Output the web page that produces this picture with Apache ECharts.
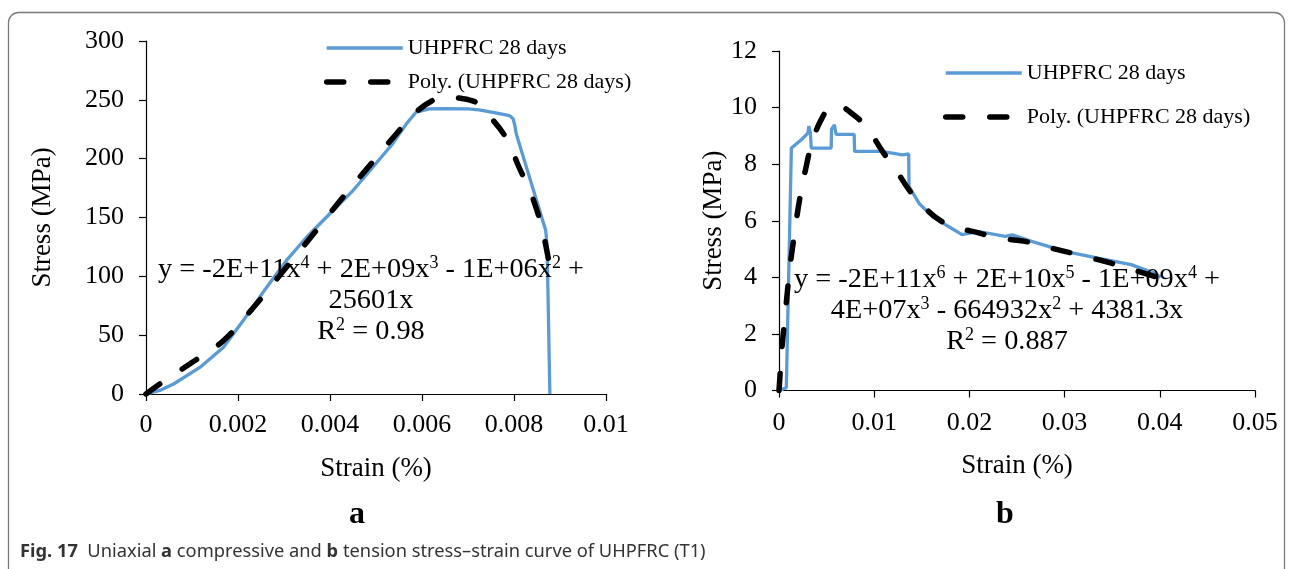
<!DOCTYPE html>
<html>
<head>
<meta charset="utf-8">
<script src="https://cdn.jsdelivr.net/npm/echarts@6/dist/echarts.min.js"></script>
<style>
  html, body { margin: 0; padding: 0; background: #fff; }
  #chart { width: 1293px; height: 569px; }
</style>
</head>
<body>
<div id="chart"></div>
<script>
// (a) compressive test, measured curve
const compStrain = [0, 0.0003, 0.0006, 0.00117, 0.00168, 0.00211, 0.00262, 0.00305, 0.00349, 0.00399,
  0.0045, 0.00493, 0.00536, 0.00566, 0.00587, 0.00616, 0.0065, 0.0070, 0.00724, 0.0076, 0.0079,
  0.00798, 0.00802, 0.00805, 0.00869, 0.00872, 0.00878];
const compStress = [0, 3, 8.5, 22.6, 39.6, 62.3, 90.6, 113.3, 133.2, 153,
  172.9, 192.7, 212.6, 229.6, 239.5, 242.3, 242.5, 242.3, 241.5, 239, 236.6,
  234, 228, 221, 138.9, 125, 0];

// (a) 4th-order polynomial trend line
const compFitStrain = [0, 0.0003, 0.00095, 0.00168, 0.0024, 0.00305, 0.0037, 0.00428, 0.00486, 0.00544,
  0.00587, 0.0063, 0.00652, 0.0068, 0.00717, 0.00739, 0.00782, 0.00811, 0.0084, 0.00862, 0.00876];
const compFitStress = [0, 8.5, 25.5, 45.3, 76.5, 107.7, 138.9, 167.2, 194.1, 221,
  239.5, 250.8, 252.2, 251.5, 248, 239.5, 218.2, 192.7, 167.2, 138.9, 112];

// (b) tension test, measured curve
const tensStrain = [0, 0.0004, 0.00077, 0.0013, 0.00234, 0.00303, 0.00314, 0.0033, 0.00339, 0.00548,
  0.00552, 0.00582, 0.006, 0.0079, 0.00794, 0.0107, 0.0119, 0.01296, 0.01362, 0.01366,
  0.0147, 0.0161, 0.01749, 0.01923, 0.02097, 0.02376, 0.0245, 0.02654, 0.03003, 0.03351,
  0.03699, 0.03943, 0.0401];
const tensStress = [0, 0.05, 0.1, 8.57, 8.86, 9.1, 9.35, 9.1, 8.57, 8.57,
  9.24, 9.39, 9.05, 9.05, 8.45, 8.45, 8.39, 8.33, 8.36, 7.21,
  6.62, 6.15, 5.86, 5.51, 5.62, 5.45, 5.5, 5.27, 4.92, 4.68,
  4.45, 4.15, 4.0];

// (b) 6th-order polynomial trend line
const tensFitStrain = [0, 0.00012, 0.00025, 0.0006, 0.00112, 0.00164, 0.00216, 0.00286, 0.00355, 0.0046,
  0.00548, 0.0063, 0.00739, 0.00913, 0.01087, 0.01227, 0.01366, 0.0147, 0.01679, 0.01853,
  0.02097, 0.02306, 0.02585, 0.02794, 0.03142, 0.0349, 0.03943, 0.0401];
const tensFitStress = [0, 0.6, 1.3, 2.5, 4.27, 5.57, 6.74, 7.92, 8.86, 9.68,
  10.04, 10.05, 9.86, 9.33, 8.45, 7.8, 7.09, 6.68, 6.04, 5.78,
  5.57, 5.39, 5.27, 5.09, 4.8, 4.5, 4.03, 3.95];

// axis ranges and tick steps
const compX = { min: 0, max: 0.01, interval: 0.002 };
const compY = { min: 0, max: 300, interval: 50 };
const tensX = { min: 0, max: 0.05, interval: 0.01 };
const tensY = { min: 0, max: 12, interval: 2 };

const seriesName = 'UHPFRC 28 days';
const fitName = 'Poly. (UHPFRC 28 days)';

const zip = (xs, ys) => xs.map((x, i) => [x, ys[i]]);

const SERIF = "'Liberation Serif', 'Times New Roman', serif";
const BLUE = '#5B9BD5';
const DASH = [17, 27];

function xAxis(gridIndex, range, labelMargin, nameGap) {
  return {
    type: 'value', gridIndex, ...range,
    name: 'Strain (%)', nameLocation: 'middle', nameGap,
    nameTextStyle: { fontFamily: SERIF, fontSize: 27, color: '#000' },
    axisLine: { show: true, lineStyle: { color: '#000', width: 1.2 } },
    axisTick: { show: true, length: 7, lineStyle: { color: '#000', width: 1.2 } },
    axisLabel: { fontFamily: SERIF, fontSize: 26, color: '#000', margin: labelMargin,
      formatter: v => String(Number(v.toFixed(4))) },
    splitLine: { show: false }
  };
}
function yAxis(gridIndex, range, nameGap) {
  return {
    type: 'value', gridIndex, ...range,
    name: 'Stress (MPa)', nameLocation: 'middle', nameGap,
    nameTextStyle: { fontFamily: SERIF, fontSize: 27, color: '#000' },
    axisLine: { show: true, lineStyle: { color: '#000', width: 1.2 } },
    axisTick: { show: true, length: 7, lineStyle: { color: '#000', width: 1.2 } },
    axisLabel: { fontFamily: SERIF, fontSize: 26, color: '#000', margin: 22 },
    splitLine: { show: false }
  };
}
function legend(left, top, gap) {
  return {
    left, top, orient: 'vertical', itemWidth: 76, itemHeight: 22, itemGap: gap,
    itemStyle: { opacity: 0 },
    data: [
      { name: seriesName, itemStyle: { opacity: 0 }, lineStyle: { color: BLUE, width: 3.6 } },
      { name: fitName, itemStyle: { opacity: 0 }, lineStyle: { color: '#000', width: 5.5, type: DASH, cap: 'round' } }
    ],
    textStyle: { fontFamily: SERIF, fontSize: 22, color: '#000' },
    selectedMode: false
  };
}
const measured = (xi, data) => ({
  name: seriesName, type: 'line', xAxisIndex: xi, yAxisIndex: xi, data,
  symbol: 'none', showSymbol: false, smooth: false, lineStyle: { color: BLUE, width: 3.3 }, itemStyle: { color: BLUE },
  z: 2
});
const trend = (xi, data) => ({
  name: fitName, type: 'line', xAxisIndex: xi, yAxisIndex: xi, data,
  symbol: 'none', showSymbol: false, smooth: 0.4,
  lineStyle: { color: '#000', width: 5.5, type: DASH, cap: 'round' }, itemStyle: { color: '#000' },
  z: 3
});

const sup = { fontFamily: SERIF, fontSize: 18, verticalAlign: 'top', color: '#000' };
const eqText = (lines) => lines.join('\n');

const chart = echarts.init(document.getElementById('chart'), null, { renderer: 'canvas' });
chart.setOption({
  animation: false,
  backgroundColor: '#fff',
  grid: [
    { left: 146, top: 41, width: 460, height: 353 },
    { left: 779, top: 51, width: 476, height: 339.5 }
  ],
  xAxis: [xAxis(0, compX, 18, 61), xAxis(1, tensX, 20, 62)],
  yAxis: [yAxis(0, compY, 90), yAxis(1, tensY, 44)],
  legend: [legend(319, 32, 12), legend(938, 57, 22)],
  series: [
    measured(0, zip(compStrain, compStress)),
    trend(0, zip(compFitStrain, compFitStress)),
    measured(1, zip(tensStrain, tensStress)),
    trend(1, zip(tensFitStrain, tensFitStress))
  ],
  graphic: [
    { type: 'rect', shape: { x: 8.5, y: 12.5, width: 1276, height: 620, r: 10 },
      style: { fill: 'none', stroke: '#7a7a7a', lineWidth: 1.3 }, silent: true },
    { type: 'text', x: 371, y: 254, z: 10,
      style: { text: eqText(['y = -2E+11x{s|4} + 2E+09x{s|3} - 1E+06x{s|2} +', '25601x', 'R{s|2} = 0.98']),
        fontFamily: SERIF, fontSize: 28.3, lineHeight: 31, fill: '#000', align: 'center',
        rich: { s: sup } } },
    { type: 'text', x: 1007, y: 264, z: 10,
      style: { text: eqText(['y = -2E+11x{s|6} + 2E+10x{s|5} - 1E+09x{s|4} +', '4E+07x{s|3} - 664932x{s|2} + 4381.3x', 'R{s|2} = 0.887']),
        fontFamily: SERIF, fontSize: 28.3, lineHeight: 31, fill: '#000', align: 'center',
        rich: { s: sup } } },
    { type: 'text', x: 357, y: 515, style: { text: 'a', fontFamily: SERIF, fontSize: 32, fontWeight: 'bold',
        fill: '#000', align: 'center', verticalAlign: 'middle' } },
    { type: 'text', x: 1005, y: 515, style: { text: 'b', fontFamily: SERIF, fontSize: 32, fontWeight: 'bold',
        fill: '#000', align: 'center', verticalAlign: 'middle' } },
    { type: 'text', x: 20, y: 552,
      style: { text: '{b|Fig. 17}  Uniaxial {b|a} compressive and {b|b} tension stress\u2013strain curve of UHPFRC (T1)',
        fontFamily: "'Noto Sans', sans-serif", fontSize: 18.3, fill: '#333', verticalAlign: 'middle',
        rich: { b: { fontFamily: "'Noto Sans', sans-serif", fontSize: 18.3, fontWeight: 'bold', color: '#222' } } } }
  ]
});
</script>
</body>
</html>
